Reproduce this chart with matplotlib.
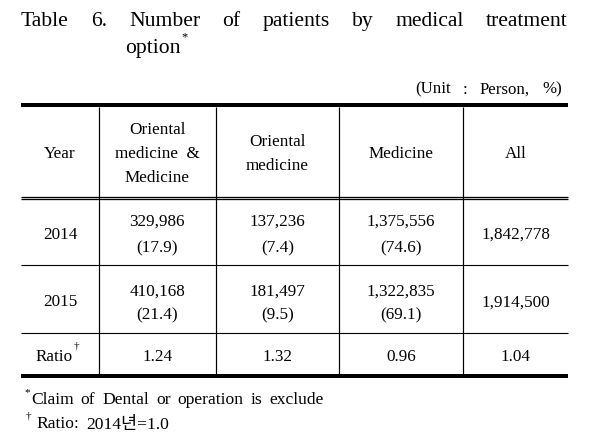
import matplotlib
matplotlib.use("Agg")
import matplotlib.pyplot as plt

# ---------------- data ----------------
title_words = ["Table", "6.", "Number", "of", "patients", "by", "medical", "treatment"]
title_line2 = "option"
unit_words = ["(Unit", ":", "Person,", "%)"]
header_year = ["Year"]
header_cols = [["Oriental", "medicine  &", "Medicine"],
               ["Oriental", "medicine"],
               ["Medicine"],
               ["All"]]
years = ["2014", "2015"]
both_counts = [329986, 410168]
both_pct = [17.9, 21.4]
oriental_counts = [137236, 181497]
oriental_pct = [7.4, 9.5]
medicine_counts = [1375556, 1322835]
medicine_pct = [74.6, 69.1]
all_counts = [1842778, 1914500]
ratio_label = "Ratio"
ratios = [1.24, 1.32, 0.96, 1.04]
foot1_words = ["Claim", "of", "Dental", "or", "operation", "is", "exclude"]
foot2_a = "Ratio:"
foot2_b = "2014년=1.0"

# ---------------- layout ----------------
W, H, DPI = 601, 442, 100
FAM = ["Liberation Serif", "Noto Sans CJK KR", "DejaVu Sans"]
BODY = 12.3
TITLE = 15.6

fig = plt.figure(figsize=(W / DPI, H / DPI), dpi=DPI)
ax = fig.add_axes([0, 0, 1, 1])
ax.set_xlim(0, W)
ax.set_ylim(H, 0)
ax.axis("off")

def px(v):
    return v * 72.0 / DPI

left, right = 21, 568
col_edges = [left, 99, 215.5, 339, 463, right]
centers = [(col_edges[i] + col_edges[i + 1]) / 2 for i in range(5)]

# lines
ax.hlines(105.3, left, right, color="black", lw=px(4))
ax.hlines([196.6, 199.4], left, right, color="black", lw=px(1.3))
ax.hlines([265, 333.3], left, right, color="black", lw=px(1.1))
ax.hlines(376.2, left, right, color="black", lw=px(4))
ax.vlines(col_edges[1:5], 107, 374.5, color="black", lw=px(1.2))

def t(x, y, s, size=BODY, ha="center", va="baseline"):
    return ax.text(x, y, s, fontsize=size, family=FAM, ha=ha, va=va, color="black")

fig.canvas.draw()
renderer = fig.canvas.get_renderer()

def justify(words, x0, x1, y, size):
    objs = [t(0, y, w, size=size, ha="left") for w in words]
    widths = []
    for o in objs:
        bb = o.get_window_extent(renderer=renderer)
        widths.append(bb.width)
    gap = (x1 - x0 - sum(widths)) / (len(words) - 1)
    x = x0
    for o, w in zip(objs, widths):
        o.set_x(x)
        x += w + gap

# title
justify(title_words, 21, 568, 26, TITLE)
o = t(125, 53.3, title_line2, size=TITLE, ha="left")
bb = o.get_window_extent(renderer=renderer)
t(125 + bb.width + 1, 40, "*", size=9, ha="left")

# unit
justify(unit_words, 415, 562, 93.5, 12.2)

# header
t(centers[0], 158, header_year[0])
for ci, lines in enumerate(header_cols):
    n = len(lines)
    mid = 158
    step = 23.6
    start = mid - step * (n - 1) / 2
    for li, s in enumerate(lines):
        t(centers[ci + 1], start + li * step, s)

# data rows
row_base = [(225.6, 252.0, 238.6), (295.6, 319.2, 306.3)]
for r, yr in enumerate(years):
    b1, b2, bs = row_base[r]
    t(centers[0], bs, yr)
    for ci, (cnt, pct) in enumerate([(both_counts, both_pct),
                                     (oriental_counts, oriental_pct),
                                     (medicine_counts, medicine_pct)]):
        t(centers[ci + 1], b1, f"{cnt[r]:,}")
        t(centers[ci + 1], b2, f"({pct[r]:.1f})")
    t(centers[4], bs, f"{all_counts[r]:,}")

# ratio row
t(73, 360.6, ratio_label, ha="right")
t(74, 348, "†", size=8, ha="left")
for ci, v in enumerate(ratios):
    t(centers[ci + 1], 360.6, f"{v:.2f}")

# footnotes
t(24.5, 395, "*", size=8, ha="left")
justify(foot1_words, 31, 324, 404.5, 12.6)
t(25.5, 418, "†", size=8, ha="left")
t(36.5, 428.5, foot2_a, size=12.6, ha="left")
t(86.5, 428.5, foot2_b, size=12.6, ha="left")

fig.savefig("out.png", dpi=DPI)
